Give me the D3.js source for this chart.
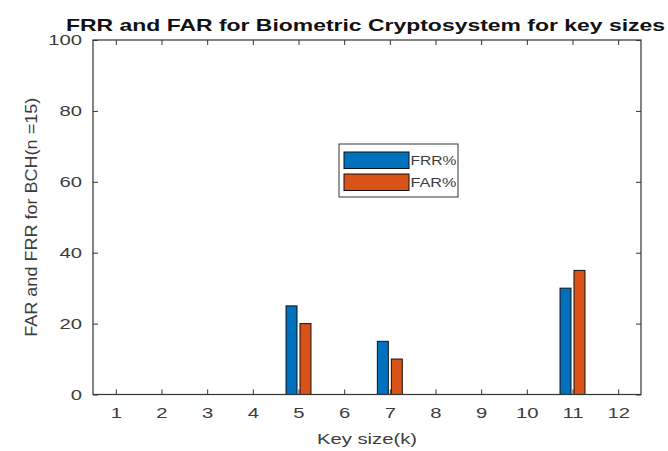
<!DOCTYPE html>
<html>
<head>
<meta charset="utf-8">
<script src="https://cdn.jsdelivr.net/npm/d3@7"></script>
<style>
  html, body { margin: 0; padding: 0; background: #fff; }
  svg { display: block; }
  text { font-family: "Liberation Sans", Arial, Helvetica, sans-serif; }
</style>
</head>
<body>
<div id="chart"></div>
<script>
// ---- data ----
const keySizes = [1, 2, 3, 4, 5, 6, 7, 8, 9, 10, 11, 12];
const frrValues = [0, 0, 0, 0, 25, 0, 15, 0, 0, 0, 30, 0];
const farValues = [0, 0, 0, 0, 20, 0, 10, 0, 0, 0, 35, 0];
const yTicks = [0, 20, 40, 60, 80, 100];
const seriesNames = ["FRR%", "FAR%"];
const seriesColors = ["#0072BD", "#D95319"];
const titleText = "FRR and FAR for Biometric Cryptosystem for key sizes";
const xLabelText = "Key size(k)";
const yLabelText = "FAR and FRR for BCH(n =15)";

(function () {
const W = 668, H = 451;
const pLeft = 93, pRight = 641, pTop = 40, pBottom = 394.5;
const sx = 1.35; // horizontal text stretch seen in the reference
const axisColor = "#333333";
const textColor = "#3c3c3c";

const svg = d3.select("#chart").append("svg")
  .attr("width", W).attr("height", H);

const x = d3.scaleLinear().domain([0.5, 12.5]).range([pLeft, pRight]);
const y = d3.scaleLinear().domain([0, 100]).range([pBottom, pTop]);

svg.append("rect")
  .attr("x", pLeft).attr("y", pTop)
  .attr("width", pRight - pLeft).attr("height", pBottom - pTop)
  .attr("fill", "#fff");

// bars
const unit = x(2) - x(1);
const barW = 0.24 * unit;
const offsets = [-0.153, 0.153];
const seriesData = [frrValues, farValues];
seriesData.forEach((vals, si) => {
  svg.append("g").selectAll("rect")
    .data(keySizes.map((k, i) => ({ k, v: vals[i] })).filter(d => d.v > 0))
    .join("rect")
    .attr("x", d => x(d.k + offsets[si]) - barW / 2)
    .attr("y", d => y(d.v))
    .attr("width", barW)
    .attr("height", d => y(0) - y(d.v))
    .attr("fill", seriesColors[si])
    .attr("stroke", "#111")
    .attr("stroke-width", 1);
});

function styleAxis(g) {
  g.select(".domain").remove();
  g.selectAll("line").attr("stroke", axisColor);
}
const gx = svg.append("g").attr("transform", `translate(0,${pBottom})`)
  .call(d3.axisBottom(x).tickValues(keySizes).tickSize(-5).tickPadding(13).tickFormat(d3.format("d")));
styleAxis(gx);
gx.selectAll("text").each(function() {
  const t = d3.select(this);
  const yy = +t.attr("y");
  t.attr("y", 0).attr("transform", `translate(0,${yy}) scale(${sx},1)`);
}).attr("fill", textColor).style("font-size", "15px");

const gxTop = svg.append("g").attr("transform", `translate(0,${pTop})`)
  .call(d3.axisTop(x).tickValues(keySizes).tickSize(-5).tickFormat(""));
styleAxis(gxTop);

const gy = svg.append("g").attr("transform", `translate(${pLeft},0)`)
  .call(d3.axisLeft(y).tickValues(yTicks).tickSize(-5).tickPadding(11).tickFormat(d3.format("d")));
styleAxis(gy);
gy.selectAll("text").each(function() {
  const t = d3.select(this);
  const xx = +t.attr("x");
  t.attr("x", 0).attr("transform", `translate(${xx},0) scale(${sx},1)`);
}).attr("fill", textColor).style("font-size", "15px");

const gyRight = svg.append("g").attr("transform", `translate(${pRight},0)`)
  .call(d3.axisRight(y).tickValues(yTicks).tickSize(-5).tickFormat(""));
styleAxis(gyRight);

svg.append("rect")
  .attr("x", pLeft).attr("y", pTop)
  .attr("width", pRight - pLeft).attr("height", pBottom - pTop)
  .attr("fill", "none").attr("stroke", axisColor).attr("stroke-width", 1.2);

// title
svg.append("text")
  .attr("x", 66).attr("y", 30.5)
  .attr("textLength", 599).attr("lengthAdjust", "spacingAndGlyphs")
  .style("font-size", "16.5px").style("font-weight", "bold")
  .attr("fill", "#111")
  .text(titleText);

// x label
svg.append("text")
  .attr("transform", `translate(${(pLeft + pRight) / 2},444) scale(${sx},1)`)
  .attr("text-anchor", "middle")
  .style("font-size", "15px")
  .attr("fill", textColor)
  .text(xLabelText);

// y label
svg.append("text")
  .attr("transform", `translate(37,${(pTop + pBottom) / 2}) scale(1.15,1) rotate(-90)`)
  .attr("text-anchor", "middle")
  .attr("textLength", 239).attr("lengthAdjust", "spacingAndGlyphs")
  .style("font-size", "15px")
  .attr("fill", textColor)
  .text(yLabelText);

// legend
const lg = svg.append("g");
lg.append("rect")
  .attr("x", 339).attr("y", 144).attr("width", 119).attr("height", 53)
  .attr("fill", "#fff").attr("stroke", axisColor).attr("stroke-width", 1);
const legY = [152, 174];
seriesNames.forEach((name, i) => {
  lg.append("rect")
    .attr("x", 344).attr("y", legY[i]).attr("width", 65).attr("height", 16.5)
    .attr("fill", seriesColors[i]).attr("stroke", "#111").attr("stroke-width", 1);
  lg.append("text")
    .attr("x", 410.5).attr("y", legY[i] + 13)
    .attr("textLength", 46).attr("lengthAdjust", "spacingAndGlyphs")
    .style("font-size", "13.5px")
    .attr("fill", textColor)
    .text(name);
});
})();
</script>
</body>
</html>
